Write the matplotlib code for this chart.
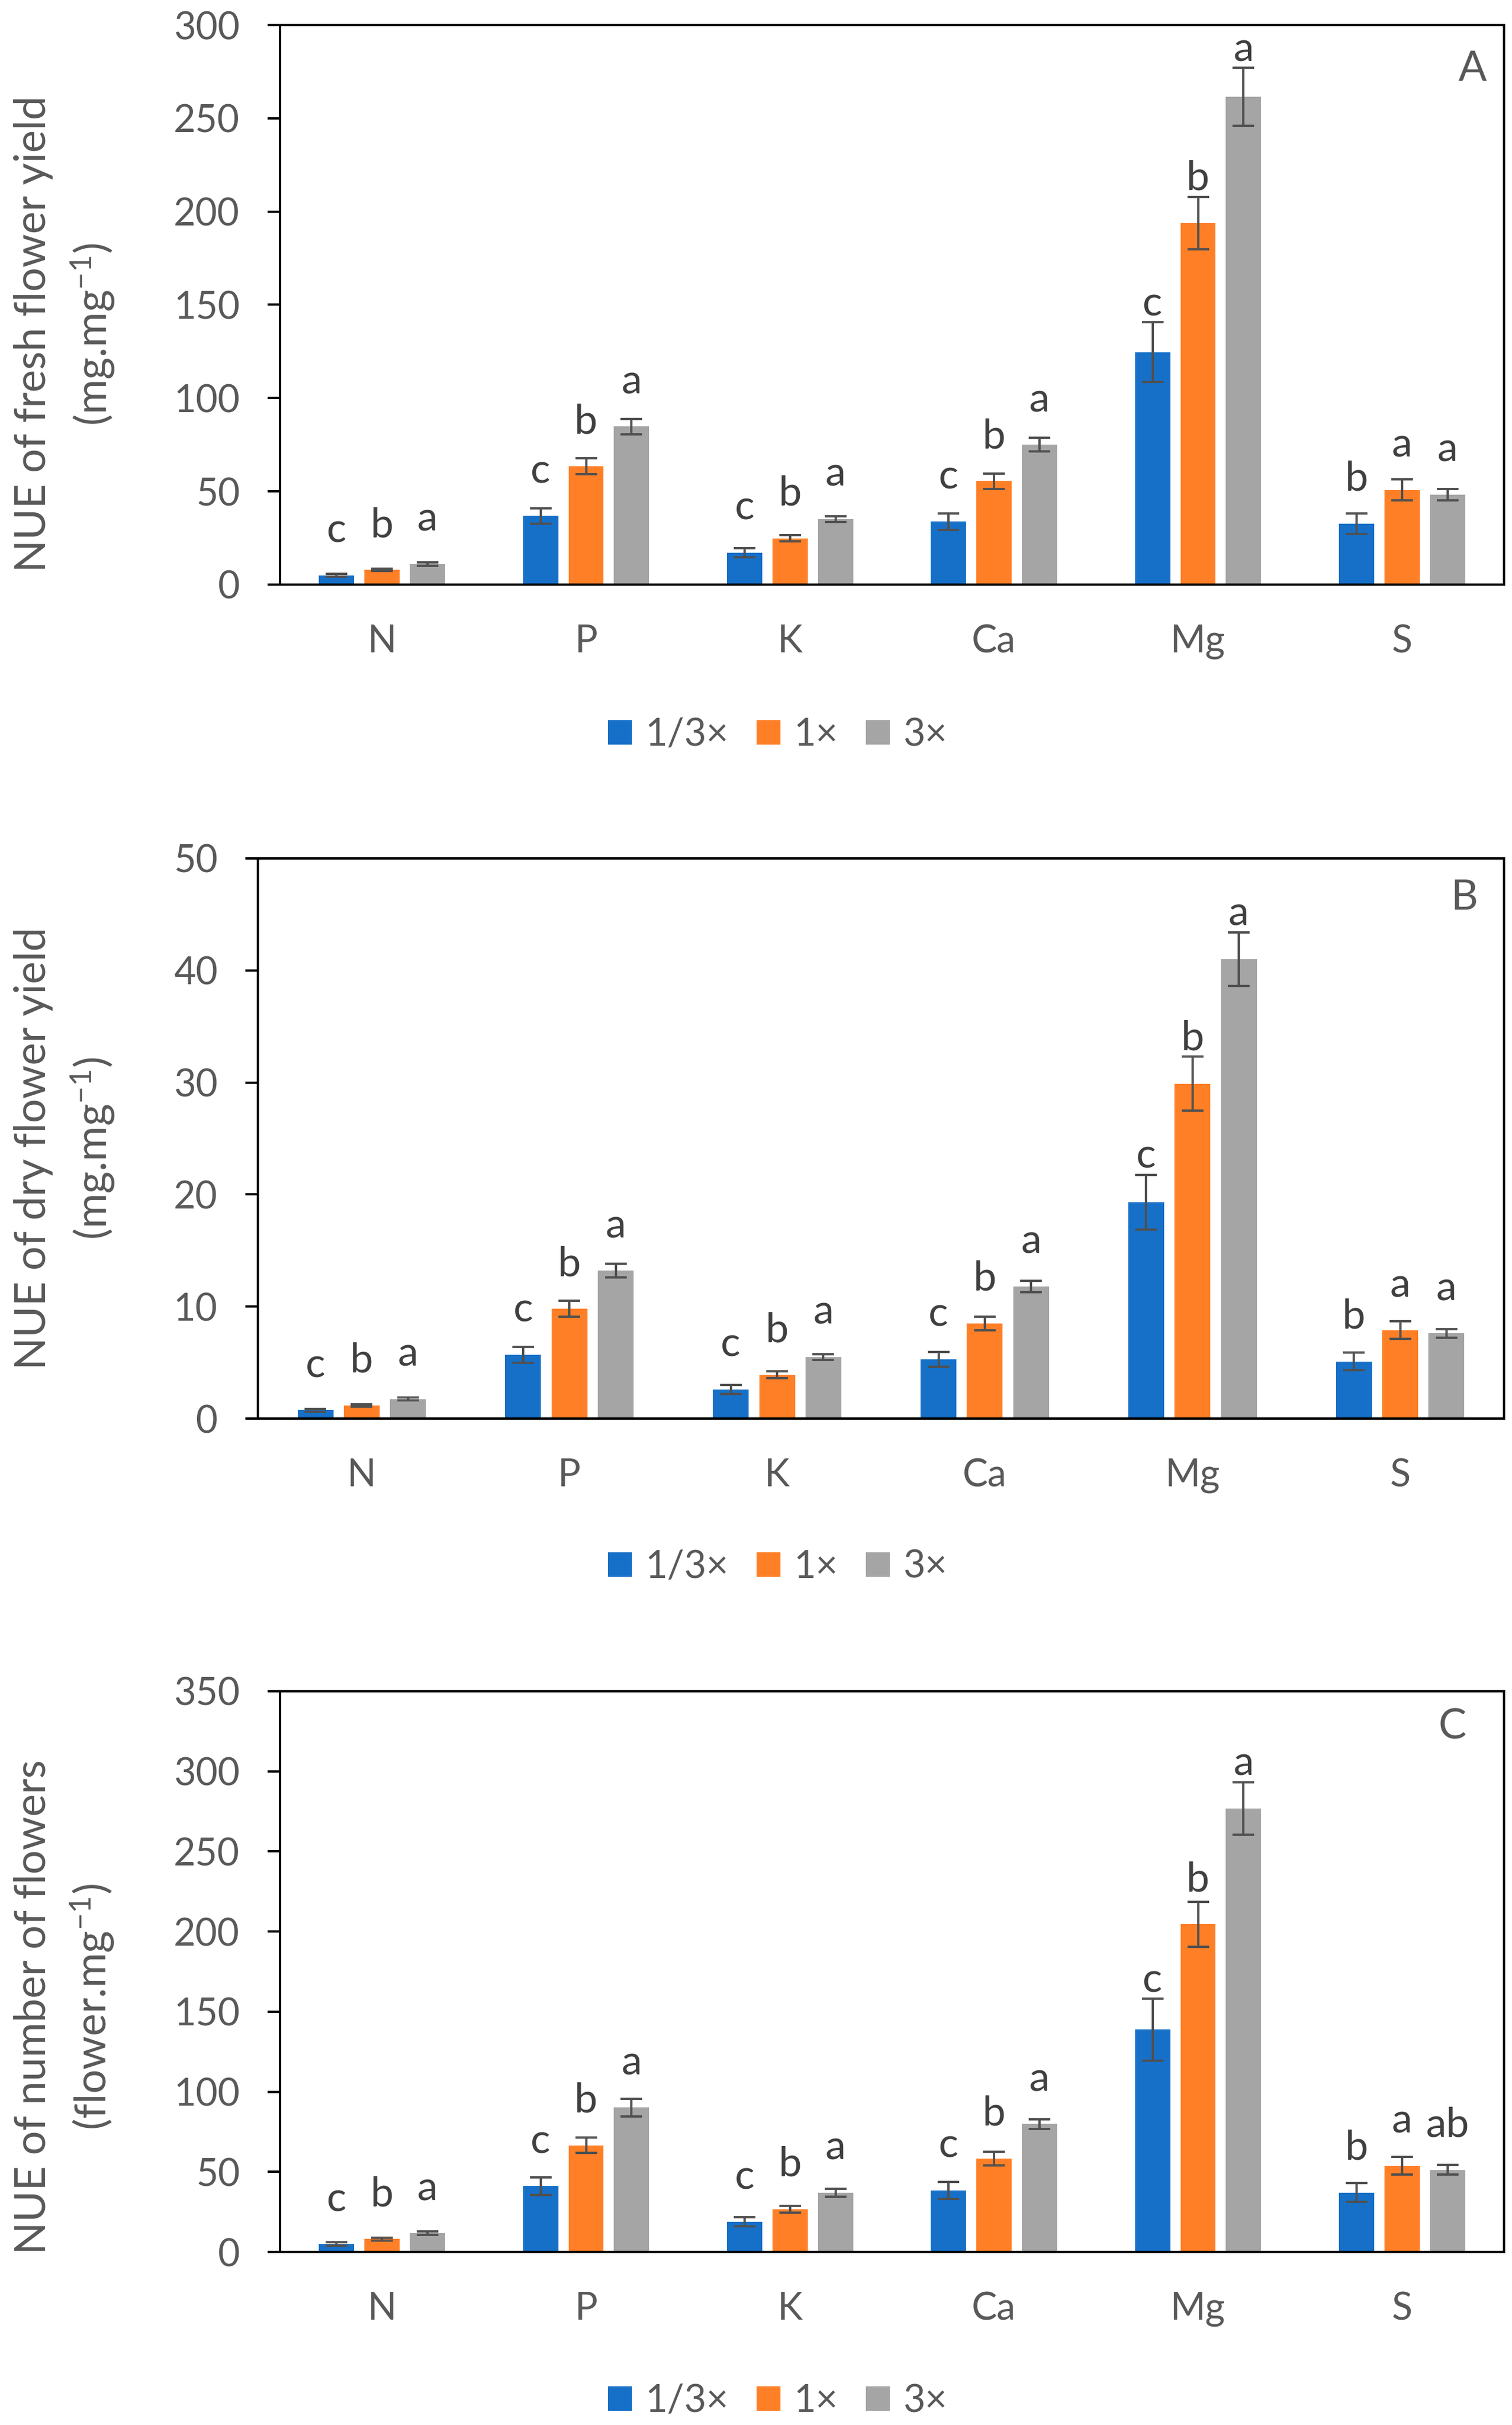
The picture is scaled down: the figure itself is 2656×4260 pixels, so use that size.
import numpy as np
import matplotlib
matplotlib.use("Agg")
import matplotlib.pyplot as plt

plt.rcParams['font.family'] = ['Lato', 'DejaVu Sans']
plt.rcParams['mathtext.fontset'] = 'custom'
plt.rcParams['mathtext.rm'] = 'Lato'
plt.rcParams['mathtext.it'] = 'Lato:italic'

elements = ['N', 'P', 'K', 'Ca', 'Mg', 'S']
series = ['1/3×', '1×', '3×']
colors = ['#1670C8', '#FF7F27', '#A5A5A5']

# A - fresh flower yield
fresh_low = [5.0, 36.8, 17.1, 33.8, 124.6, 32.7]
fresh_low_err = [0.8, 4.2, 2.4, 4.5, 16.0, 5.5]
fresh_mid = [7.9, 63.4, 24.8, 55.4, 193.8, 50.8]
fresh_mid_err = [0.7, 4.2, 1.7, 4.0, 14.0, 5.6]
fresh_high = [11.0, 84.7, 35.2, 75.0, 261.6, 48.3]
fresh_high_err = [0.9, 4.0, 1.5, 3.6, 15.5, 3.0]
fresh_letters = [['c', 'c', 'c', 'c', 'c', 'b'],
                 ['b', 'b', 'b', 'b', 'b', 'a'],
                 ['a', 'a', 'a', 'a', 'a', 'a']]

# B - dry flower yield
dry_low = [0.75, 5.7, 2.6, 5.3, 19.3, 5.1]
dry_low_err = [0.12, 0.7, 0.4, 0.66, 2.45, 0.8]
dry_mid = [1.18, 9.8, 3.9, 8.5, 29.9, 7.9]
dry_mid_err = [0.1, 0.7, 0.3, 0.6, 2.4, 0.8]
dry_high = [1.75, 13.2, 5.5, 11.8, 41.0, 7.6]
dry_high_err = [0.12, 0.6, 0.25, 0.5, 2.4, 0.4]
dry_letters = [['c', 'c', 'c', 'c', 'c', 'b'],
               ['b', 'b', 'b', 'b', 'b', 'a'],
               ['a', 'a', 'a', 'a', 'a', 'a']]

# C - number of flowers
num_low = [4.9, 41.1, 18.7, 38.4, 138.8, 37.1]
num_low_err = [1.0, 5.5, 2.8, 5.2, 19.3, 5.9]
num_mid = [8.0, 66.6, 26.7, 58.3, 204.5, 53.7]
num_mid_err = [0.8, 4.9, 2.1, 4.3, 14.1, 5.5]
num_high = [11.7, 90.2, 37.1, 79.8, 276.9, 51.3]
num_high_err = [1.0, 5.5, 2.5, 3.1, 16.3, 3.0]
num_letters = [['c', 'c', 'c', 'c', 'c', 'b'],
               ['b', 'b', 'b', 'b', 'b', 'a'],
               ['a', 'a', 'a', 'a', 'a', 'ab']]

panels = [
    dict(vals=[fresh_low, fresh_mid, fresh_high],
         errs=[fresh_low_err, fresh_mid_err, fresh_high_err],
         letters=fresh_letters, ymax=300, step=50, tag='A',
         ylabel='NUE of fresh flower yield\n(mg.mg$^{-1}$)'),
    dict(vals=[dry_low, dry_mid, dry_high],
         errs=[dry_low_err, dry_mid_err, dry_high_err],
         letters=dry_letters, ymax=50, step=10, tag='B',
         ylabel='NUE of dry flower yield\n(mg.mg$^{-1}$)'),
    dict(vals=[num_low, num_mid, num_high],
         errs=[num_low_err, num_mid_err, num_high_err],
         letters=num_letters, ymax=350, step=50, tag='C',
         ylabel='NUE of number of flowers\n(flower.mg$^{-1}$)'),
]

W, H = 2656, 4260
fig = plt.figure(figsize=(W / 100, H / 100), dpi=100)

# axes boxes in pixels: left, right, top, bottom
boxes = [(492, 2642, 44, 1027), (453, 2642, 1508, 2492), (492, 2642, 2971, 3956)]
tag_pos = [(0.986, 0.955), (0.979, 0.963), (0.969, 0.970)]
ylabel_y = [587, 2017, 3526]
legend_y = [1291, 2753, 4218]

txt = '#595959'
bw = 0.173
off = 0.223
x = np.arange(len(elements))

for p, box, tp, ly, lgy in zip(panels, boxes, tag_pos, ylabel_y, legend_y):
    l, r, t, b = box
    ax = fig.add_axes([l / W, 1 - b / H, (r - l) / W, (b - t) / H])
    ax.set_xlim(-0.5, len(elements) - 0.5)
    ax.set_ylim(0, p['ymax'])
    ax.set_yticks(np.arange(0, p['ymax'] + 1, p['step']))
    ax.set_xticks(x)
    ax.set_xticklabels(elements)
    ax.tick_params(axis='x', length=0, pad=50, labelsize=48, labelcolor=txt)
    ax.tick_params(axis='y', length=16, width=2.9, pad=35, labelsize=48,
                   labelcolor=txt, color='black')
    for s in ax.spines.values():
        s.set_linewidth(2.9)
        s.set_color('black')

    handles = []
    for i in range(3):
        xs = x + (i - 1) * off
        bars = ax.bar(xs, p['vals'][i], width=bw, color=colors[i], zorder=2,
                      label=series[i])
        handles.append(bars)
        ax.errorbar(xs, p['vals'][i], yerr=p['errs'][i], fmt='none',
                    ecolor='#505050', elinewidth=2.9, capsize=14,
                    capthick=2.9, zorder=3)

    # significance letters
    ppu = (b - t) / p['ymax']
    for i in range(3):
        xs = x + (i - 1) * off
        for j in range(len(elements)):
            v = p['vals'][i][j]
            e = p['errs'][i][j]
            dy_px = max(58, e * ppu + 12)
            ax.annotate(p['letters'][i][j], (xs[j], v),
                        xytext=(0, dy_px * 0.72), textcoords='offset points',
                        ha='center', va='baseline', fontsize=52, color='#404040')

    ax.text(tp[0], tp[1], p['tag'], transform=ax.transAxes, ha='right',
            va='top', fontsize=53, color=txt)

    fig.text(114 / W, 1 - ly / H, p['ylabel'], rotation=90, ha='center',
             va='center', multialignment='center', fontsize=54, color=txt,
             linespacing=1.42)

    fig.legend(handles=handles, labels=series, loc='center',
               bbox_to_anchor=(1366 / W, 1 - lgy / H), ncol=3, frameon=False,
               fontsize=48, handlelength=0.62, handleheight=0.62,
               handletextpad=0.35, columnspacing=0.75, labelcolor=txt)

fig.savefig('out.png', dpi=100)
